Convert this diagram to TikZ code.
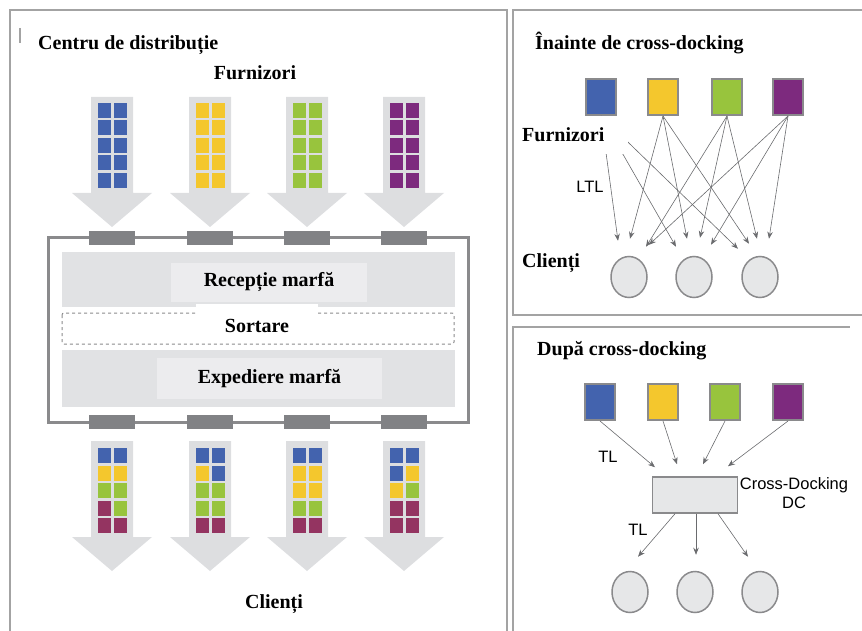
\documentclass[tikz,border=0pt]{standalone}
\usepackage{fontspec}
\setmainfont{Liberation Serif}
\setsansfont{Liberation Sans}
\usetikzlibrary{shapes.geometric, arrows.meta, positioning, calc}
\definecolor{supblue}{HTML}{4363AE}
\definecolor{supyellow}{HTML}{F4C72D}
\definecolor{supgreen}{HTML}{98C43D}
\definecolor{suppurple}{HTML}{7D2A7E}
\definecolor{supmaroon}{HTML}{943461}
\definecolor{arrowgray}{HTML}{DDDEE0}
\definecolor{bandgray}{HTML}{E1E2E4}
\definecolor{bandlight}{HTML}{ECECEE}
\definecolor{dockgray}{HTML}{818285}
\definecolor{boxgray}{HTML}{8A8A8C}
\definecolor{panelgray}{HTML}{A3A3A3}
\definecolor{nodegray}{HTML}{E6E7E8}
\definecolor{linkgray}{HTML}{6A6B6E}
\colorlet{sqB}{supblue}
\colorlet{sqY}{supyellow}
\colorlet{sqG}{supgreen}
\colorlet{sqM}{supmaroon}

\begin{document}
\begin{tikzpicture}[
  x=1pt, y=-1pt,
  panel/.style={draw=panelgray, line width=1.5pt},
  title/.style={font=\fontsize{20}{24}\selectfont\bfseries, inner sep=0pt},
  tag/.style={font=\fontsize{16.5}{19}\selectfont\sffamily, inner sep=0pt},
  zone/.style={rectangle, fill=bandlight, font=\fontsize{20}{24}\selectfont\bfseries},
  supplier/.style={rectangle, draw=boxgray, line width=2pt,
    minimum width=30pt, minimum height=36pt, inner sep=0pt},
  client/.style={ellipse, draw=boxgray, line width=1.5pt, fill=nodegray,
    minimum width=36pt, minimum height=41pt, inner sep=0pt},
  flow/.style={line width=0.6pt, linkgray, -{Stealth[length=7pt,width=5.5pt]}},
  pics/flowarrow/.style={code={
    \fill[arrowgray] (-21,0) -- (21,0) -- (21,96) -- (40,96) -- (0,130)
      -- (-40,96) -- (-21,96) -- cycle;
  }}
]
  \useasboundingbox (0,0) rectangle (862,631);

  % Panels
  \draw[panel] (10,640) -- (10,10) -- (507,10) -- (507,640);
  \draw[panel] (20,28) -- (20,43);
  \draw[panel] (870,315) -- (513,315) -- (513,10) -- (870,10);
  \draw[panel] (513,640) -- (513,327) -- (850,327);

  % Distribution centre
  \node[title, anchor=base west] (dctitle) at (38,50) {Centru de distribuție};
  \node[title, anchor=base] (furn) at (255,80) {Furnizori};

  % Incoming flows
  \foreach \cx/\col in {112/supblue, 210/supyellow, 307/supgreen, 404/suppurple} {
    \pic at (\cx,97) {flowarrow};
    \foreach \row in {0,...,4}
      \foreach \dx in {-14.5,1.5}
        \fill[\col] ({\cx+\dx},{103+\row*17.5}) rectangle ++(13,15);
  }

  % Building
  \draw[boxgray, line width=3pt] (48,238) rectangle (468,422);
  \foreach \cx in {112,210,307,404} {
    \fill[dockgray] ({\cx-23},231) rectangle ({\cx+23},245);
    \fill[dockgray] ({\cx-23},415) rectangle ({\cx+23},429);
  }
  \fill[bandgray] (62,252) rectangle (455,307);
  \fill[bandgray] (62,350) rectangle (455,407);
  \node[zone, minimum width=196pt, minimum height=39pt] (recv) at (269,282.5) {Recepție marfă};
  \node[zone, minimum width=225pt, minimum height=41pt] (ship) at (269.5,378.5) {Expediere marfă};
  \draw[boxgray, dashed, line width=1pt, rounded corners=2pt] (62,313) rectangle (454,344);
  \node[zone, fill=white, minimum width=122pt, inner ysep=0pt,
    text height=28pt, text depth=3pt] (sort) at (257,319.5) {Sortare};

  % Outgoing flows
  \foreach \cx/\pat in {112/{B,B,Y,Y,G,G,M,G,M,M}, 210/{B,B,Y,B,G,G,G,G,M,M},
                        307/{B,B,Y,Y,Y,Y,G,G,M,M}, 404/{B,B,B,Y,Y,G,M,M,M,M}} {
    \pic at (\cx,441) {flowarrow};
    \foreach \c [count=\i from 0] in \pat {
      \pgfmathtruncatemacro{\row}{\i/2}
      \pgfmathtruncatemacro{\colm}{mod(\i,2)}
      \fill[sq\c] ({\cx-14.5+\colm*16},{448+\row*17.5}) rectangle ++(13,15);
    }
  }
  \node[title, anchor=base] (cli) at (274,608) {Clienți};

  % Before cross-docking
  \node[title, anchor=base west] (beftitle) at (535,50) {Înainte de cross-docking};
  \node[supplier, fill=supblue] (sb) at (601,97) {};
  \node[supplier, fill=supyellow] (sy) at (663,97) {};
  \node[supplier, fill=supgreen] (sg) at (727,97) {};
  \node[supplier, fill=suppurple] (sp) at (788,97) {};
  \node[client] (c1) at (629,277) {};
  \node[client] (c2) at (694,277) {};
  \node[client] (c3) at (760,277) {};
  \foreach \s/\c/\dx/\dy in {sb/c1/-11/-15, sy/c1/1/-17, sg/c1/17/-9, sp/c1/20/-11,
                             sb/c2/-18/-9, sy/c2/-7/-17, sg/c2/6/-18, sp/c2/17/-11,
                             sb/c3/-22/-7, sy/c3/-11/-12, sg/c3/-3/-17, sp/c3/9/-17}
    \draw[flow] (\s.south) -- ($(\c.north)+(\dx,\dy)$);
  \node[title, fill=white, anchor=north west, inner xsep=6pt, text width=100pt,
    minimum height=38pt] (furnb) at (516,115.5) {Furnizori};
  \node[tag, anchor=base] (ltl) at (590,193) {LTL};
  \node[title, anchor=base west] (clib) at (522,267) {Clienți};

  % After cross-docking
  \node[title, anchor=base west] (afttitle) at (537,355) {După cross-docking};
  \node[supplier, fill=supblue] (ab) at (600,402) {};
  \node[supplier, fill=supyellow] (ay) at (663,402) {};
  \node[supplier, fill=supgreen] (ag) at (725,402) {};
  \node[supplier, fill=suppurple] (ap) at (788,402) {};
  \node[rectangle, draw=boxgray, line width=1.5pt, fill=nodegray,
    minimum width=85pt, minimum height=36pt] (xdc) at (695,495) {};
  \node[tag, align=center] (xdclbl) at (794,493) {Cross-Docking\\DC};
  \node[client] (d1) at (630,592) {};
  \node[client] (d2) at (695,592) {};
  \node[client] (d3) at (760,592) {};
  \foreach \s/\dx/\dy in {ab/-40/-9, ay/-18/-12, ag/8/-12, ap/33/-10}
    \draw[flow] (\s.south) -- ($(xdc.north)+(\dx,\dy)$);
  \draw[flow] ($(xdc.south)+(-20,0)$) -- ($(d1.north)+(8,-14)$);
  \draw[flow] ($(xdc.south)+(1,0)$) -- ($(d2.north)+(1,-16)$);
  \draw[flow] ($(xdc.south)+(23,0)$) -- ($(d3.north)+(-12,-14)$);
  \node[tag, anchor=base] (tlin) at (608,462) {TL};
  \node[tag, anchor=base] (tlout) at (638,535) {TL};
\end{tikzpicture}
\end{document}
